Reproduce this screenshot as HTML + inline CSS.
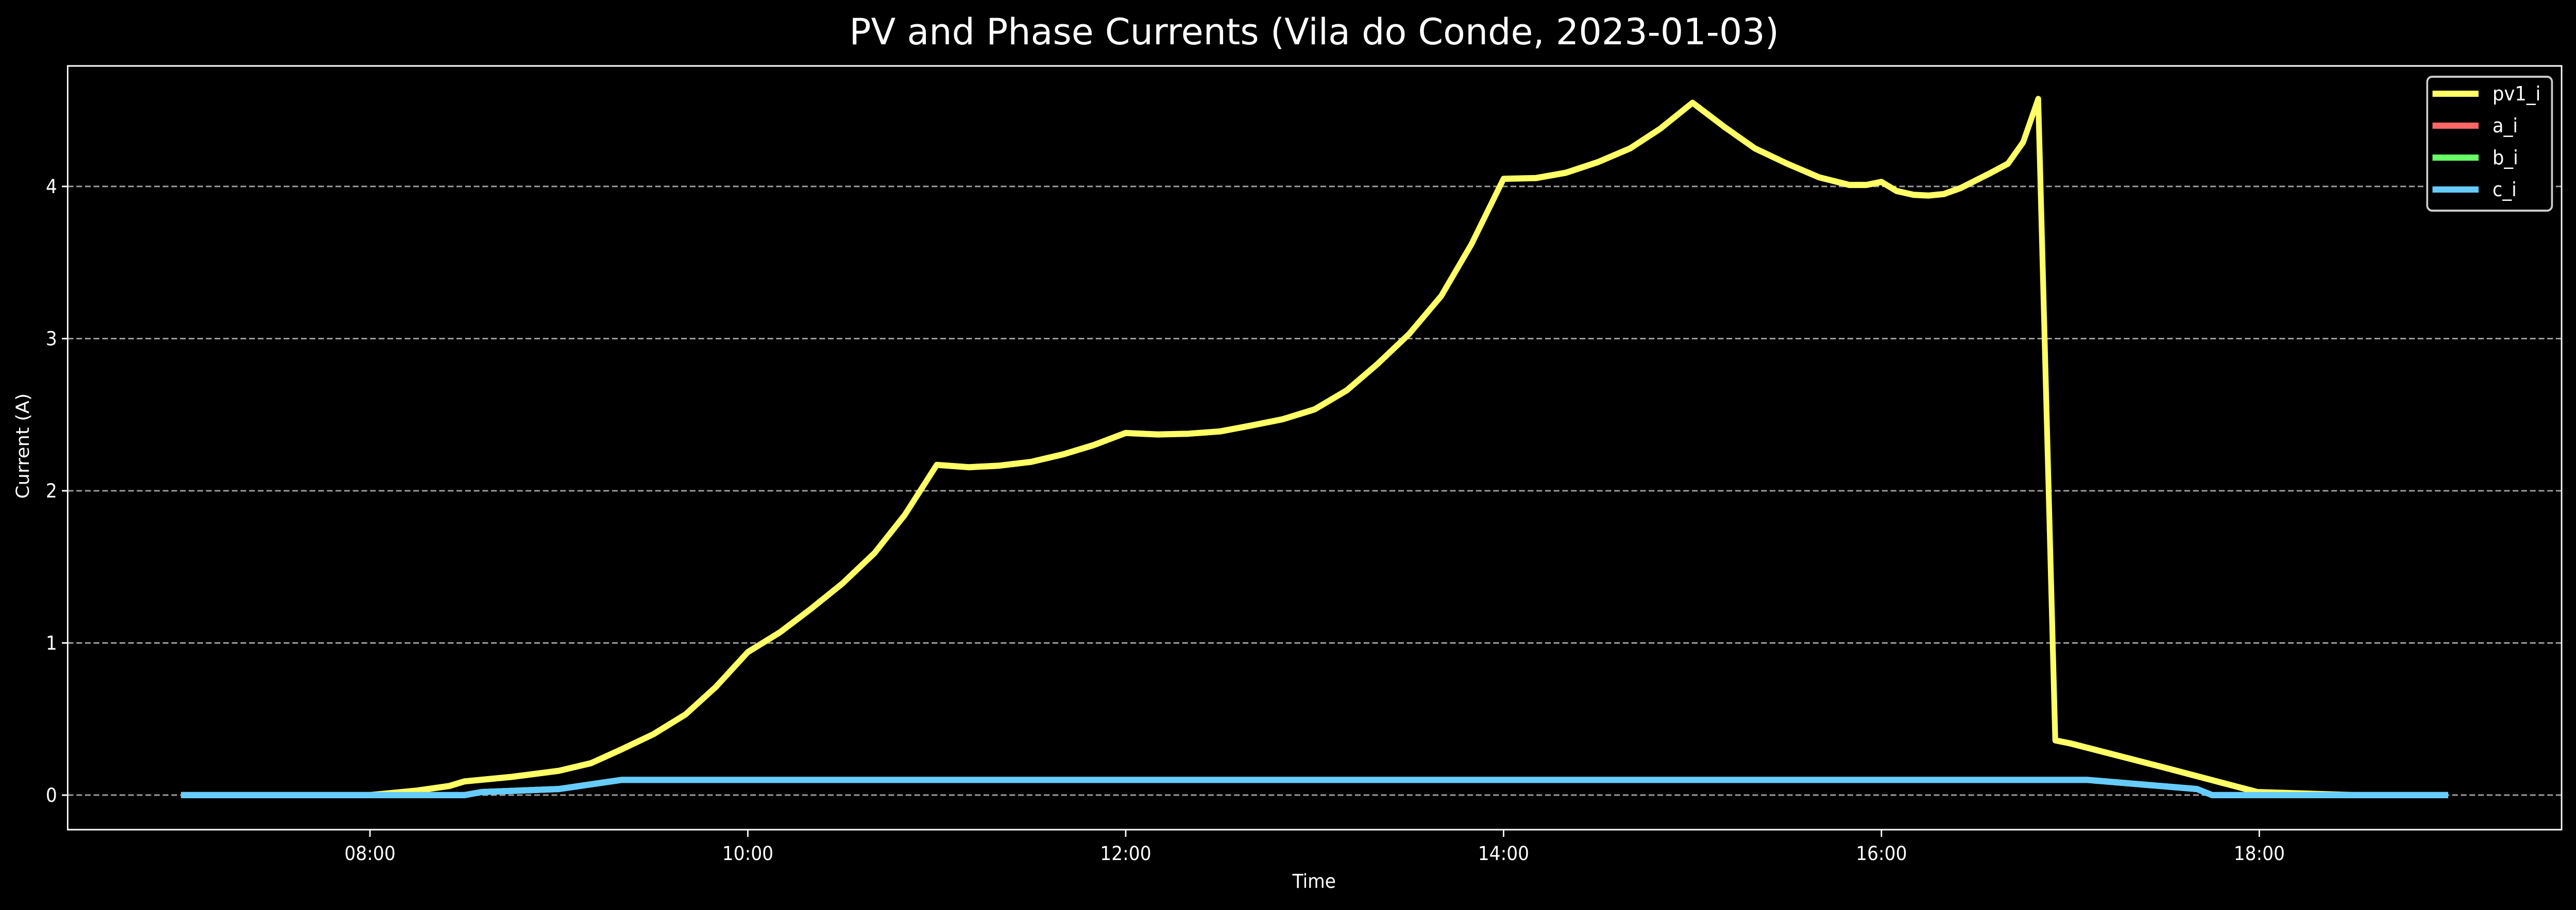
<!DOCTYPE html>
<html><head><meta charset="utf-8"><style>
html,body{margin:0;padding:0;background:#000;width:100vw;height:100vh;overflow:hidden;}
svg{display:block;position:absolute;left:0;top:0;width:100vw;height:100vh;font-family:"DejaVu Sans","Liberation Sans",sans-serif;}
</style></head><body>
<svg id="chart" viewBox="0 0 5367 1767" preserveAspectRatio="none" xmlns="http://www.w3.org/2000/svg">
<rect width="5367" height="1767" fill="#000"/>
<text x="2738" y="86" font-size="70" fill="#fff" text-anchor="middle" textLength="1937" lengthAdjust="spacingAndGlyphs">PV and Phase Currents (Vila do Conde, 2023-01-03)</text>
<g id="grid"></g>
<g id="series"></g>
<g id="axes"></g>
<text x="2738" y="1724" font-size="37" fill="#fff" text-anchor="middle">Time</text>
<text x="0" y="0" font-size="37" fill="#fff" text-anchor="middle" transform="translate(60,866) rotate(-90)">Current (A)</text>
<g id="legend">
<rect x="5057" y="149" width="260" height="260" rx="10" fill="#000" stroke="#ccc" stroke-width="4"/>
</g>
</svg>
<script>
const timeHours = [7,7.5,8,8.25,8.42,8.5,8.75,9,9.17,9.33,9.5,9.67,9.83,10,10.17,10.33,10.5,10.67,10.83,11,11.17,11.33,11.5,11.67,11.83,12,12.17,12.33,12.5,12.67,12.83,13,13.17,13.33,13.5,13.67,13.83,14,14.17,14.33,14.5,14.67,14.83,15,15.17,15.33,15.5,15.67,15.83,15.92,16,16.08,16.17,16.25,16.33,16.42,16.5,16.58,16.67,16.75,16.83,16.92,17,17.5,17.99,18.5,19];
const pv1Values = [0,0,0,0.03,0.06,0.09,0.12,0.16,0.21,0.30,0.40,0.53,0.71,0.94,1.07,1.22,1.39,1.59,1.84,2.17,2.155,2.165,2.19,2.24,2.30,2.38,2.37,2.375,2.39,2.43,2.47,2.535,2.66,2.83,3.03,3.28,3.62,4.05,4.055,4.09,4.16,4.25,4.38,4.55,4.39,4.25,4.15,4.06,4.01,4.01,4.03,3.97,3.945,3.94,3.95,3.99,4.04,4.09,4.15,4.29,4.575,0.36,0.34,0.18,0.02,0,0];
const phaseTimes = [7,8.5,8.59,9,9.33,17.09,17.67,17.75,19];
const aValues = [0,0,0.02,0.04,0.1,0.1,0.04,0,0];
const bValues = [0,0,0.02,0.04,0.1,0.1,0.04,0,0];
const cValues = [0,0,0.02,0.04,0.1,0.1,0.04,0,0];
const yTicks = [0,1,2,3,4];
const xTickHours = [8,10,12,14,16,18];
const xTickLabels = ["08:00","10:00","12:00","14:00","16:00","18:00"];
const seriesNames = ["pv1_i","a_i","b_i","c_i"];
const seriesColors = ["#ffff66","#ff6666","#66ff66","#66ccff"];

const L=141,R=5337,T=128,B=1611;
const xMin=6.4,xMax=19.6,yMin=-0.227,yMax=4.792;
function xs(t){return L+(t-xMin)/(xMax-xMin)*(R-L);}
function ys(v){return B-(v-yMin)/(yMax-yMin)*(B-T);}
const NS="http://www.w3.org/2000/svg";
function mk(tag,attrs,parent){const e=document.createElementNS(NS,tag);for(const k in attrs)e.setAttribute(k,attrs[k]);parent.appendChild(e);return e;}
const grid=document.getElementById('grid'),series=document.getElementById('series'),axes=document.getElementById('axes'),legend=document.getElementById('legend');

yTicks.forEach(v=>{
  const g=mk('line',{x1:L,x2:R,y1:ys(v),y2:ys(v),stroke:'#9a9a9a','stroke-width':3,'stroke-dasharray':'12 6'},grid);
  
  
  const tk=mk('line',{x1:L-12,x2:L,y1:ys(v),y2:ys(v),stroke:'#fff','stroke-width':3},axes);
  
  
  const tx=mk('text',{x:L-22,y:ys(v)+13,'font-size':37,fill:'#fff','text-anchor':'end'},axes);
  tx.textContent=String(v);
  
  
});
xTickHours.forEach((h,i)=>{
  const tk=mk('line',{x1:xs(h),x2:xs(h),y1:B,y2:B+14,stroke:'#fff','stroke-width':3},axes);
  
  
  const tx=mk('text',{x:xs(h),y:1670,'font-size':37,fill:'#fff','text-anchor':'middle'},axes);
  tx.textContent=xTickLabels[i];
  
  
});
const frame=mk('rect',{x:L,y:T,width:R-L,height:B-T,fill:'none',stroke:'#fff','stroke-width':3},axes);



function path(ts,vs,color,name){
  const d=ts.map((t,i)=>(i?'L':'M')+xs(t).toFixed(1)+' '+ys(vs[i]).toFixed(1)).join(' ');
  const p=mk('path',{d:d,fill:'none',stroke:color,'stroke-width':12,'stroke-linejoin':'round'},series);
  
  
}
path(timeHours,pv1Values,seriesColors[0],'pv1-i-line');
path(phaseTimes,aValues,seriesColors[1],'a-i-line');
path(phaseTimes,bValues,seriesColors[2],'b-i-line');
path(phaseTimes,cValues,seriesColors[3],'c-i-line');

seriesNames.forEach((n,i)=>{
  const y=182+i*62;
  const ln=mk('line',{x1:5068,x2:5164,y1:y,y2:y,stroke:seriesColors[i],'stroke-width':12},legend);
  
  
  const tx=mk('text',{x:5193,y:y+13,'font-size':38,fill:'#fff'},legend);
  tx.textContent=n;
  
  
});
</script>
</body></html>
